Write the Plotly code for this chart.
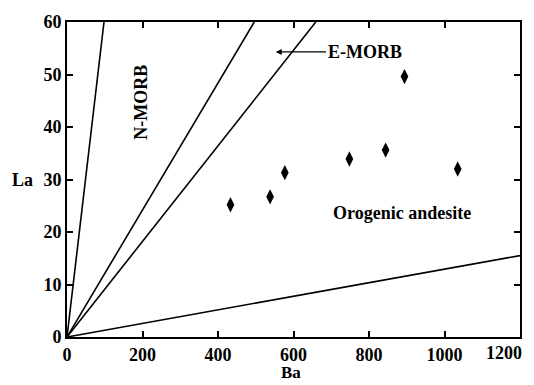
import plotly.graph_objects as go

# Sample data (Ba, La)
ba = [433, 538, 577, 748, 844, 894, 1035]
la = [25.2, 26.7, 31.3, 33.9, 35.6, 49.6, 32.0]

# Discrimination lines from origin: end points (Ba, La)
line_ba_end = [98, 496, 659, 1200]
line_la_end = [60, 60, 60, 15.5]

x_ticks = [0, 200, 400, 600, 800, 1000, 1200]
x_ticktext = ["0", "200", "400", "600", "800", "1000", ""]
y_ticks = [0, 10, 20, 30, 40, 50, 60]

FONT = "Times New Roman"
FS = 18

fig = go.Figure()
for xe, ye in zip(line_ba_end, line_la_end):
    fig.add_trace(go.Scatter(x=[0, xe], y=[0, ye], mode="lines",
                             line=dict(color="black", width=1.6),
                             showlegend=False, hoverinfo="skip"))

fig.add_trace(go.Scatter(x=ba, y=la, mode="markers",
                         marker=dict(symbol="diamond-tall", size=11, color="black"),
                         showlegend=False))

axis_common = dict(showline=True, linecolor="black", linewidth=2, mirror="ticks",
                   ticks="inside", ticklen=6, tickwidth=1.5, tickcolor="black",
                   showgrid=False, zeroline=False,
                   tickfont=dict(family=FONT, size=FS, color="black", weight="bold"))

fig.update_xaxes(range=[0, 1200], tickvals=x_ticks, ticktext=x_ticktext, **axis_common)
fig.update_yaxes(range=[0, 60], tickvals=y_ticks, **axis_common)

# last x tick label placed manually so it stays inside the page
fig.add_annotation(x=x_ticks[-1], xref="x", yref="paper", y=-0.05, xanchor="right",
                   yanchor="middle", xshift=4, text="<b>1200</b>", showarrow=False,
                   font=dict(family=FONT, size=FS, color="black"))

fig.add_annotation(x=197, y=44.7, text="<b>N-MORB</b>", showarrow=False, textangle=-90,
                   font=dict(family=FONT, size=FS, color="black"))
fig.add_annotation(x=790, y=54.3, text="<b>E-MORB</b>", showarrow=False,
                   font=dict(family=FONT, size=FS, color="black"))
fig.add_annotation(x=553, y=54.3, ax=690, ay=54.3, axref="x", ayref="y",
                   text="", showarrow=True, arrowhead=2, arrowsize=1, arrowwidth=1.2,
                   arrowcolor="black")
fig.add_annotation(x=888, y=23.6, text="<b>Orogenic andesite</b>", showarrow=False,
                   font=dict(family=FONT, size=FS, color="black"))
fig.add_annotation(xref="paper", yref="paper", x=0, xshift=-45, y=0.5, xanchor="center",
                   yanchor="middle", text="<b>La</b>", showarrow=False,
                   font=dict(family=FONT, size=FS, color="black"))
fig.add_annotation(xref="paper", yref="paper", x=0.495, y=-0.1505, xanchor="center",
                   yanchor="bottom", text="<b>Ba</b>", showarrow=False,
                   font=dict(family=FONT, size=17, color="black"))

fig.update_layout(width=534, height=385, margin=dict(l=67, r=12, t=16, b=48),
                  plot_bgcolor="white", paper_bgcolor="white")

fig.write_html("out.html")
